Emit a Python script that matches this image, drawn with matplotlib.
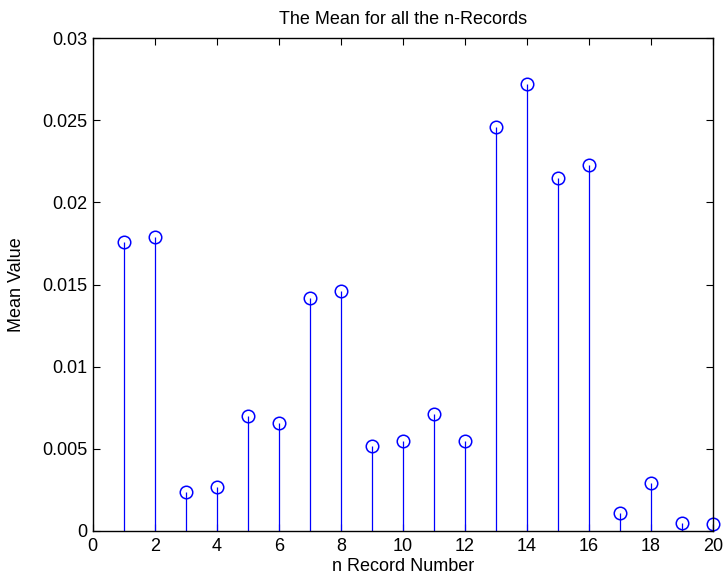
import matplotlib.pyplot as plt
import numpy as np

plt.rcParams['font.family'] = ['Liberation Sans', 'DejaVu Sans']

# record numbers and their mean values
records = np.arange(1, 21)
means = [0.0176, 0.0179, 0.0024, 0.0027, 0.0070, 0.0066, 0.0142, 0.0146,
         0.0052, 0.0055, 0.0071, 0.0055, 0.0246, 0.0272, 0.0215, 0.0223,
         0.0011, 0.0029, 0.0005, 0.0004]

fig = plt.figure(figsize=(7.24, 5.79), dpi=100)
ax = fig.add_axes([0.128, 0.083, 0.857, 0.851])

markerline, stemlines, baseline = ax.stem(records, means, linefmt='b-', markerfmt='bo', basefmt='k-')
markerline.set_markerfacecolor('none')
markerline.set_markersize(9)
markerline.set_markeredgewidth(1.1)
markerline.set_clip_on(False)
stemlines.set_linewidth(0.9)
baseline.set_visible(False)

ax.set_xlim(0, 20)
ax.set_ylim(0, 0.03)
ax.set_xticks(range(0, 21, 2))
ax.set_yticks([0, 0.005, 0.01, 0.015, 0.02, 0.025, 0.03])
ax.set_yticklabels(['0', '0.005', '0.01', '0.015', '0.02', '0.025', '0.03'])
ax.tick_params(direction='in', top=True, right=True, labelsize=13, length=5)
ax.tick_params(axis='x', pad=5)
ax.tick_params(axis='y', pad=4)
for s in ax.spines.values():
    s.set_linewidth(1.0)

ax.set_title('The Mean for all the n-Records', fontsize=13, pad=10)
ax.set_xlabel('n Record Number', fontsize=13, labelpad=2)
ax.set_ylabel('Mean Value', fontsize=13, labelpad=12)

fig.savefig('out.png', dpi=100)
